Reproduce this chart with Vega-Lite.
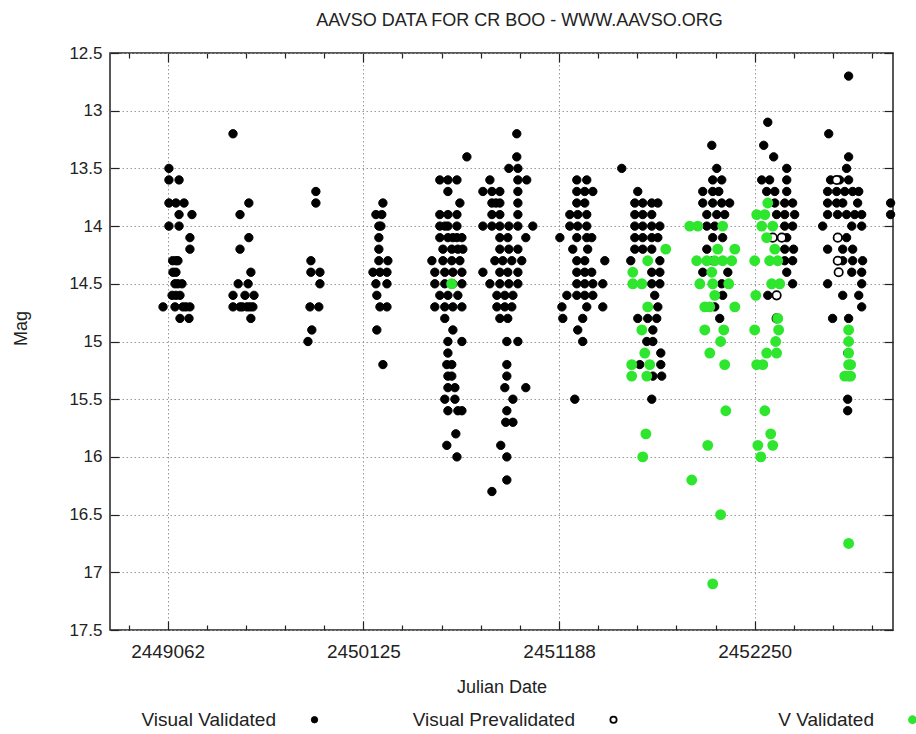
{
"$schema":"https://vega.github.io/schema/vega-lite/v6.json",
"width":783,"height":577,"autosize":"none",
"padding":{"left":110,"top":53,"right":23,"bottom":104},
"background":"white",
"title":{"text":"AAVSO DATA FOR CR BOO - WWW.AAVSO.ORG","font":"Liberation Sans","fontSize":18,"fontWeight":"normal","color":"#222","offset":14,"dx":18},
"config":{
"view":{"stroke":"#222","strokeWidth":1.5},
"axis":{"labelFont":"Liberation Sans","titleFont":"Liberation Sans","labelFontSize":17,"titleFontSize":18,"titleFontWeight":"normal","labelColor":"#222","titleColor":"#222","domain":false,"tickColor":"#222","tickWidth":1.2,"gridColor":"#999","gridDash":[1.5,2.5],"gridWidth":1}
},
"data":{"values":[
{"jd":2449069,"mag":13.5,"band":"Visual Validated"},{"jd":2449069,"mag":13.6,"band":"Visual Validated"},{"jd":2449124,"mag":13.6,"band":"Visual Validated"},{"jd":2449069,"mag":13.8,"band":"Visual Validated"},{"jd":2449107,"mag":13.8,"band":"Visual Validated"},{"jd":2449151,"mag":13.8,"band":"Visual Validated"},{"jd":2449124,"mag":13.9,"band":"Visual Validated"},{"jd":2449194,"mag":13.9,"band":"Visual Validated"},{"jd":2449069,"mag":14.0,"band":"Visual Validated"},{"jd":2449124,"mag":14.0,"band":"Visual Validated"},{"jd":2449183,"mag":14.1,"band":"Visual Validated"},{"jd":2449183,"mag":14.2,"band":"Visual Validated"},{"jd":2449089,"mag":14.3,"band":"Visual Validated"},{"jd":2449107,"mag":14.3,"band":"Visual Validated"},{"jd":2449118,"mag":14.3,"band":"Visual Validated"},{"jd":2449091,"mag":14.4,"band":"Visual Validated"},{"jd":2449107,"mag":14.4,"band":"Visual Validated"},{"jd":2449102,"mag":14.5,"band":"Visual Validated"},{"jd":2449118,"mag":14.5,"band":"Visual Validated"},{"jd":2449140,"mag":14.5,"band":"Visual Validated"},{"jd":2449086,"mag":14.6,"band":"Visual Validated"},{"jd":2449107,"mag":14.6,"band":"Visual Validated"},{"jd":2449129,"mag":14.6,"band":"Visual Validated"},{"jd":2449037,"mag":14.7,"band":"Visual Validated"},{"jd":2449102,"mag":14.7,"band":"Visual Validated"},{"jd":2449145,"mag":14.7,"band":"Visual Validated"},{"jd":2449162,"mag":14.7,"band":"Visual Validated"},{"jd":2449183,"mag":14.7,"band":"Visual Validated"},{"jd":2449129,"mag":14.8,"band":"Visual Validated"},{"jd":2449178,"mag":14.8,"band":"Visual Validated"},
{"jd":2449417,"mag":13.2,"band":"Visual Validated"},{"jd":2449503,"mag":13.8,"band":"Visual Validated"},{"jd":2449455,"mag":13.9,"band":"Visual Validated"},{"jd":2449503,"mag":14.1,"band":"Visual Validated"},{"jd":2449455,"mag":14.2,"band":"Visual Validated"},{"jd":2449514,"mag":14.4,"band":"Visual Validated"},{"jd":2449445,"mag":14.5,"band":"Visual Validated"},{"jd":2449499,"mag":14.5,"band":"Visual Validated"},{"jd":2449417,"mag":14.6,"band":"Visual Validated"},{"jd":2449482,"mag":14.6,"band":"Visual Validated"},{"jd":2449531,"mag":14.6,"band":"Visual Validated"},{"jd":2449417,"mag":14.7,"band":"Visual Validated"},{"jd":2449455,"mag":14.7,"band":"Visual Validated"},{"jd":2449468,"mag":14.7,"band":"Visual Validated"},{"jd":2449493,"mag":14.7,"band":"Visual Validated"},{"jd":2449509,"mag":14.7,"band":"Visual Validated"},{"jd":2449525,"mag":14.7,"band":"Visual Validated"},{"jd":2449514,"mag":14.8,"band":"Visual Validated"},
{"jd":2449867,"mag":13.7,"band":"Visual Validated"},{"jd":2449867,"mag":13.8,"band":"Visual Validated"},{"jd":2449840,"mag":14.3,"band":"Visual Validated"},{"jd":2449840,"mag":14.4,"band":"Visual Validated"},{"jd":2449889,"mag":14.4,"band":"Visual Validated"},{"jd":2449889,"mag":14.5,"band":"Visual Validated"},{"jd":2449835,"mag":14.7,"band":"Visual Validated"},{"jd":2449883,"mag":14.7,"band":"Visual Validated"},{"jd":2449845,"mag":14.9,"band":"Visual Validated"},{"jd":2449824,"mag":15.0,"band":"Visual Validated"},
{"jd":2450231,"mag":13.8,"band":"Visual Validated"},{"jd":2450193,"mag":13.9,"band":"Visual Validated"},{"jd":2450225,"mag":13.9,"band":"Visual Validated"},{"jd":2450209,"mag":14.0,"band":"Visual Validated"},{"jd":2450220,"mag":14.0,"band":"Visual Validated"},{"jd":2450209,"mag":14.1,"band":"Visual Validated"},{"jd":2450209,"mag":14.2,"band":"Visual Validated"},{"jd":2450209,"mag":14.3,"band":"Visual Validated"},{"jd":2450258,"mag":14.3,"band":"Visual Validated"},{"jd":2450177,"mag":14.4,"band":"Visual Validated"},{"jd":2450215,"mag":14.4,"band":"Visual Validated"},{"jd":2450253,"mag":14.4,"band":"Visual Validated"},{"jd":2450193,"mag":14.5,"band":"Visual Validated"},{"jd":2450253,"mag":14.5,"band":"Visual Validated"},{"jd":2450198,"mag":14.6,"band":"Visual Validated"},{"jd":2450215,"mag":14.7,"band":"Visual Validated"},{"jd":2450253,"mag":14.7,"band":"Visual Validated"},{"jd":2450198,"mag":14.9,"band":"Visual Validated"},{"jd":2450231,"mag":15.2,"band":"Visual Validated"},
{"jd":2450687,"mag":13.4,"band":"Visual Validated"},{"jd":2450540,"mag":13.6,"band":"Visual Validated"},{"jd":2450584,"mag":13.6,"band":"Visual Validated"},{"jd":2450633,"mag":13.6,"band":"Visual Validated"},{"jd":2450584,"mag":13.7,"band":"Visual Validated"},{"jd":2450649,"mag":13.8,"band":"Visual Validated"},{"jd":2450540,"mag":13.9,"band":"Visual Validated"},{"jd":2450584,"mag":13.9,"band":"Visual Validated"},{"jd":2450633,"mag":13.9,"band":"Visual Validated"},{"jd":2450540,"mag":14.0,"band":"Visual Validated"},{"jd":2450567,"mag":14.0,"band":"Visual Validated"},{"jd":2450584,"mag":14.0,"band":"Visual Validated"},{"jd":2450633,"mag":14.0,"band":"Visual Validated"},{"jd":2450540,"mag":14.1,"band":"Visual Validated"},{"jd":2450584,"mag":14.1,"band":"Visual Validated"},{"jd":2450611,"mag":14.1,"band":"Visual Validated"},{"jd":2450633,"mag":14.1,"band":"Visual Validated"},{"jd":2450660,"mag":14.1,"band":"Visual Validated"},{"jd":2450557,"mag":14.2,"band":"Visual Validated"},{"jd":2450605,"mag":14.2,"band":"Visual Validated"},{"jd":2450638,"mag":14.2,"band":"Visual Validated"},{"jd":2450665,"mag":14.2,"band":"Visual Validated"},{"jd":2450497,"mag":14.3,"band":"Visual Validated"},{"jd":2450557,"mag":14.3,"band":"Visual Validated"},{"jd":2450605,"mag":14.3,"band":"Visual Validated"},{"jd":2450649,"mag":14.3,"band":"Visual Validated"},{"jd":2450513,"mag":14.4,"band":"Visual Validated"},{"jd":2450567,"mag":14.4,"band":"Visual Validated"},{"jd":2450611,"mag":14.4,"band":"Visual Validated"},{"jd":2450660,"mag":14.4,"band":"Visual Validated"},{"jd":2450513,"mag":14.5,"band":"Visual Validated"},{"jd":2450567,"mag":14.5,"band":"Visual Validated"},{"jd":2450611,"mag":14.5,"band":"Visual Validated"},{"jd":2450660,"mag":14.5,"band":"Visual Validated"},{"jd":2450540,"mag":14.6,"band":"Visual Validated"},{"jd":2450584,"mag":14.6,"band":"Visual Validated"},{"jd":2450638,"mag":14.6,"band":"Visual Validated"},{"jd":2450513,"mag":14.7,"band":"Visual Validated"},{"jd":2450567,"mag":14.7,"band":"Visual Validated"},{"jd":2450611,"mag":14.7,"band":"Visual Validated"},{"jd":2450660,"mag":14.7,"band":"Visual Validated"},{"jd":2450567,"mag":14.8,"band":"Visual Validated"},{"jd":2450611,"mag":14.9,"band":"Visual Validated"},{"jd":2450584,"mag":15.0,"band":"Visual Validated"},{"jd":2450660,"mag":15.0,"band":"Visual Validated"},{"jd":2450584,"mag":15.1,"band":"Visual Validated"},{"jd":2450578,"mag":15.2,"band":"Visual Validated"},{"jd":2450605,"mag":15.2,"band":"Visual Validated"},{"jd":2450584,"mag":15.3,"band":"Visual Validated"},{"jd":2450605,"mag":15.3,"band":"Visual Validated"},{"jd":2450584,"mag":15.4,"band":"Visual Validated"},{"jd":2450622,"mag":15.4,"band":"Visual Validated"},{"jd":2450567,"mag":15.5,"band":"Visual Validated"},{"jd":2450622,"mag":15.5,"band":"Visual Validated"},{"jd":2450584,"mag":15.6,"band":"Visual Validated"},{"jd":2450638,"mag":15.6,"band":"Visual Validated"},{"jd":2450660,"mag":15.6,"band":"Visual Validated"},{"jd":2450627,"mag":15.8,"band":"Visual Validated"},{"jd":2450578,"mag":15.9,"band":"Visual Validated"},{"jd":2450633,"mag":16.0,"band":"Visual Validated"},
{"jd":2450958,"mag":13.2,"band":"Visual Validated"},{"jd":2450958,"mag":13.4,"band":"Visual Validated"},{"jd":2450915,"mag":13.5,"band":"Visual Validated"},{"jd":2450964,"mag":13.5,"band":"Visual Validated"},{"jd":2450812,"mag":13.6,"band":"Visual Validated"},{"jd":2450964,"mag":13.6,"band":"Visual Validated"},{"jd":2451012,"mag":13.6,"band":"Visual Validated"},{"jd":2450774,"mag":13.7,"band":"Visual Validated"},{"jd":2450823,"mag":13.7,"band":"Visual Validated"},{"jd":2450866,"mag":13.7,"band":"Visual Validated"},{"jd":2450964,"mag":13.7,"band":"Visual Validated"},{"jd":2450823,"mag":13.8,"band":"Visual Validated"},{"jd":2450845,"mag":13.8,"band":"Visual Validated"},{"jd":2450866,"mag":13.8,"band":"Visual Validated"},{"jd":2450964,"mag":13.8,"band":"Visual Validated"},{"jd":2450823,"mag":13.9,"band":"Visual Validated"},{"jd":2450866,"mag":13.9,"band":"Visual Validated"},{"jd":2450964,"mag":13.9,"band":"Visual Validated"},{"jd":2450774,"mag":14.0,"band":"Visual Validated"},{"jd":2450823,"mag":14.0,"band":"Visual Validated"},{"jd":2450866,"mag":14.0,"band":"Visual Validated"},{"jd":2450915,"mag":14.0,"band":"Visual Validated"},{"jd":2450964,"mag":14.0,"band":"Visual Validated"},{"jd":2451045,"mag":14.0,"band":"Visual Validated"},{"jd":2450866,"mag":14.1,"band":"Visual Validated"},{"jd":2450909,"mag":14.1,"band":"Visual Validated"},{"jd":2451007,"mag":14.1,"band":"Visual Validated"},{"jd":2450866,"mag":14.2,"band":"Visual Validated"},{"jd":2450915,"mag":14.2,"band":"Visual Validated"},{"jd":2450964,"mag":14.2,"band":"Visual Validated"},{"jd":2450839,"mag":14.3,"band":"Visual Validated"},{"jd":2450882,"mag":14.3,"band":"Visual Validated"},{"jd":2450931,"mag":14.3,"band":"Visual Validated"},{"jd":2450985,"mag":14.3,"band":"Visual Validated"},{"jd":2450774,"mag":14.4,"band":"Visual Validated"},{"jd":2450866,"mag":14.4,"band":"Visual Validated"},{"jd":2450909,"mag":14.4,"band":"Visual Validated"},{"jd":2450964,"mag":14.4,"band":"Visual Validated"},{"jd":2450812,"mag":14.5,"band":"Visual Validated"},{"jd":2450866,"mag":14.5,"band":"Visual Validated"},{"jd":2450915,"mag":14.5,"band":"Visual Validated"},{"jd":2450964,"mag":14.5,"band":"Visual Validated"},{"jd":2450850,"mag":14.6,"band":"Visual Validated"},{"jd":2450893,"mag":14.6,"band":"Visual Validated"},{"jd":2450937,"mag":14.6,"band":"Visual Validated"},{"jd":2450850,"mag":14.7,"band":"Visual Validated"},{"jd":2450893,"mag":14.7,"band":"Visual Validated"},{"jd":2450931,"mag":14.7,"band":"Visual Validated"},{"jd":2450866,"mag":14.8,"band":"Visual Validated"},{"jd":2450909,"mag":14.8,"band":"Visual Validated"},{"jd":2450904,"mag":15.0,"band":"Visual Validated"},{"jd":2450964,"mag":15.0,"band":"Visual Validated"},{"jd":2450904,"mag":15.2,"band":"Visual Validated"},{"jd":2450904,"mag":15.3,"band":"Visual Validated"},{"jd":2450893,"mag":15.4,"band":"Visual Validated"},{"jd":2451007,"mag":15.4,"band":"Visual Validated"},{"jd":2450937,"mag":15.5,"band":"Visual Validated"},{"jd":2450904,"mag":15.6,"band":"Visual Validated"},{"jd":2450898,"mag":15.7,"band":"Visual Validated"},{"jd":2450937,"mag":15.7,"band":"Visual Validated"},{"jd":2450871,"mag":15.9,"band":"Visual Validated"},{"jd":2450904,"mag":16.0,"band":"Visual Validated"},{"jd":2450904,"mag":16.2,"band":"Visual Validated"},{"jd":2450823,"mag":16.3,"band":"Visual Validated"},
{"jd":2451528,"mag":13.5,"band":"Visual Validated"},{"jd":2451284,"mag":13.6,"band":"Visual Validated"},{"jd":2451338,"mag":13.6,"band":"Visual Validated"},{"jd":2451284,"mag":13.7,"band":"Visual Validated"},{"jd":2451327,"mag":13.7,"band":"Visual Validated"},{"jd":2451371,"mag":13.7,"band":"Visual Validated"},{"jd":2451284,"mag":13.8,"band":"Visual Validated"},{"jd":2451327,"mag":13.8,"band":"Visual Validated"},{"jd":2451246,"mag":13.9,"band":"Visual Validated"},{"jd":2451289,"mag":13.9,"band":"Visual Validated"},{"jd":2451338,"mag":13.9,"band":"Visual Validated"},{"jd":2451246,"mag":14.0,"band":"Visual Validated"},{"jd":2451289,"mag":14.0,"band":"Visual Validated"},{"jd":2451338,"mag":14.0,"band":"Visual Validated"},{"jd":2451192,"mag":14.1,"band":"Visual Validated"},{"jd":2451284,"mag":14.1,"band":"Visual Validated"},{"jd":2451338,"mag":14.1,"band":"Visual Validated"},{"jd":2451365,"mag":14.1,"band":"Visual Validated"},{"jd":2451262,"mag":14.2,"band":"Visual Validated"},{"jd":2451343,"mag":14.2,"band":"Visual Validated"},{"jd":2451284,"mag":14.3,"band":"Visual Validated"},{"jd":2451327,"mag":14.3,"band":"Visual Validated"},{"jd":2451436,"mag":14.3,"band":"Visual Validated"},{"jd":2451284,"mag":14.4,"band":"Visual Validated"},{"jd":2451327,"mag":14.4,"band":"Visual Validated"},{"jd":2451365,"mag":14.4,"band":"Visual Validated"},{"jd":2451284,"mag":14.5,"band":"Visual Validated"},{"jd":2451327,"mag":14.5,"band":"Visual Validated"},{"jd":2451371,"mag":14.5,"band":"Visual Validated"},{"jd":2451425,"mag":14.5,"band":"Visual Validated"},{"jd":2451230,"mag":14.6,"band":"Visual Validated"},{"jd":2451284,"mag":14.6,"band":"Visual Validated"},{"jd":2451327,"mag":14.6,"band":"Visual Validated"},{"jd":2451371,"mag":14.6,"band":"Visual Validated"},{"jd":2451203,"mag":14.7,"band":"Visual Validated"},{"jd":2451338,"mag":14.7,"band":"Visual Validated"},{"jd":2451425,"mag":14.7,"band":"Visual Validated"},{"jd":2451208,"mag":14.8,"band":"Visual Validated"},{"jd":2451316,"mag":14.8,"band":"Visual Validated"},{"jd":2451289,"mag":14.9,"band":"Visual Validated"},{"jd":2451316,"mag":15.0,"band":"Visual Validated"},{"jd":2451273,"mag":15.5,"band":"Visual Validated"},
{"jd":2451615,"mag":13.7,"band":"Visual Validated"},{"jd":2451599,"mag":13.8,"band":"Visual Validated"},{"jd":2451642,"mag":13.8,"band":"Visual Validated"},{"jd":2451691,"mag":13.8,"band":"Visual Validated"},{"jd":2451724,"mag":13.8,"band":"Visual Validated"},{"jd":2451599,"mag":13.9,"band":"Visual Validated"},{"jd":2451642,"mag":13.9,"band":"Visual Validated"},{"jd":2451691,"mag":13.9,"band":"Visual Validated"},{"jd":2451599,"mag":14.0,"band":"Visual Validated"},{"jd":2451642,"mag":14.0,"band":"Visual Validated"},{"jd":2451691,"mag":14.0,"band":"Visual Validated"},{"jd":2451735,"mag":14.0,"band":"Visual Validated"},{"jd":2451599,"mag":14.1,"band":"Visual Validated"},{"jd":2451642,"mag":14.1,"band":"Visual Validated"},{"jd":2451691,"mag":14.1,"band":"Visual Validated"},{"jd":2451724,"mag":14.1,"band":"Visual Validated"},{"jd":2451599,"mag":14.2,"band":"Visual Validated"},{"jd":2451642,"mag":14.2,"band":"Visual Validated"},{"jd":2451691,"mag":14.2,"band":"Visual Validated"},{"jd":2451577,"mag":14.3,"band":"Visual Validated"},{"jd":2451735,"mag":14.3,"band":"Visual Validated"},{"jd":2451691,"mag":14.4,"band":"Visual Validated"},{"jd":2451735,"mag":14.4,"band":"Visual Validated"},{"jd":2451691,"mag":14.5,"band":"Visual Validated"},{"jd":2451735,"mag":14.5,"band":"Visual Validated"},{"jd":2451707,"mag":14.6,"band":"Visual Validated"},{"jd":2451724,"mag":14.7,"band":"Visual Validated"},{"jd":2451615,"mag":14.8,"band":"Visual Validated"},{"jd":2451669,"mag":14.8,"band":"Visual Validated"},{"jd":2451718,"mag":14.8,"band":"Visual Validated"},{"jd":2451697,"mag":14.9,"band":"Visual Validated"},{"jd":2451664,"mag":15.0,"band":"Visual Validated"},{"jd":2451697,"mag":15.0,"band":"Visual Validated"},{"jd":2451740,"mag":15.1,"band":"Visual Validated"},{"jd":2451626,"mag":15.2,"band":"Visual Validated"},{"jd":2451740,"mag":15.2,"band":"Visual Validated"},{"jd":2451697,"mag":15.3,"band":"Visual Validated"},{"jd":2451745,"mag":15.3,"band":"Visual Validated"},{"jd":2451691,"mag":15.5,"band":"Visual Validated"},
{"jd":2452017,"mag":13.3,"band":"Visual Validated"},{"jd":2452044,"mag":13.5,"band":"Visual Validated"},{"jd":2452022,"mag":13.6,"band":"Visual Validated"},{"jd":2452071,"mag":13.6,"band":"Visual Validated"},{"jd":2451968,"mag":13.7,"band":"Visual Validated"},{"jd":2452022,"mag":13.7,"band":"Visual Validated"},{"jd":2452055,"mag":13.7,"band":"Visual Validated"},{"jd":2451968,"mag":13.8,"band":"Visual Validated"},{"jd":2452022,"mag":13.8,"band":"Visual Validated"},{"jd":2452071,"mag":13.8,"band":"Visual Validated"},{"jd":2452114,"mag":13.8,"band":"Visual Validated"},{"jd":2451990,"mag":13.9,"band":"Visual Validated"},{"jd":2452044,"mag":13.9,"band":"Visual Validated"},{"jd":2452087,"mag":13.9,"band":"Visual Validated"},{"jd":2451990,"mag":14.0,"band":"Visual Validated"},{"jd":2452033,"mag":14.0,"band":"Visual Validated"},{"jd":2452022,"mag":14.1,"band":"Visual Validated"},{"jd":2452076,"mag":14.1,"band":"Visual Validated"},{"jd":2451990,"mag":14.2,"band":"Visual Validated"},{"jd":2452049,"mag":14.2,"band":"Visual Validated"},{"jd":2452022,"mag":14.3,"band":"Visual Validated"},{"jd":2451968,"mag":14.4,"band":"Visual Validated"},{"jd":2452104,"mag":14.4,"band":"Visual Validated"},{"jd":2452071,"mag":14.5,"band":"Visual Validated"},{"jd":2452076,"mag":14.6,"band":"Visual Validated"},{"jd":2452033,"mag":14.7,"band":"Visual Validated"},{"jd":2452060,"mag":14.8,"band":"Visual Validated"},
{"jd":2452321,"mag":13.1,"band":"Visual Validated"},{"jd":2452299,"mag":13.3,"band":"Visual Validated"},{"jd":2452353,"mag":13.4,"band":"Visual Validated"},{"jd":2452424,"mag":13.5,"band":"Visual Validated"},{"jd":2452288,"mag":13.6,"band":"Visual Validated"},{"jd":2452331,"mag":13.6,"band":"Visual Validated"},{"jd":2452424,"mag":13.6,"band":"Visual Validated"},{"jd":2452315,"mag":13.7,"band":"Visual Validated"},{"jd":2452359,"mag":13.7,"band":"Visual Validated"},{"jd":2452424,"mag":13.7,"band":"Visual Validated"},{"jd":2452359,"mag":13.8,"band":"Visual Validated"},{"jd":2452413,"mag":13.8,"band":"Visual Validated"},{"jd":2452456,"mag":13.8,"band":"Visual Validated"},{"jd":2452369,"mag":13.9,"band":"Visual Validated"},{"jd":2452413,"mag":13.9,"band":"Visual Validated"},{"jd":2452467,"mag":13.9,"band":"Visual Validated"},{"jd":2452413,"mag":14.0,"band":"Visual Validated"},{"jd":2452456,"mag":14.0,"band":"Visual Validated"},{"jd":2452424,"mag":14.1,"band":"Visual Validated"},{"jd":2452413,"mag":14.2,"band":"Visual Validated"},{"jd":2452461,"mag":14.2,"band":"Visual Validated"},{"jd":2452413,"mag":14.3,"band":"Visual Validated"},{"jd":2452456,"mag":14.3,"band":"Visual Validated"},{"jd":2452424,"mag":14.4,"band":"Visual Validated"},{"jd":2452456,"mag":14.5,"band":"Visual Validated"},{"jd":2452321,"mag":14.6,"band":"Visual Validated"},
{"jd":2452760,"mag":12.7,"band":"Visual Validated"},{"jd":2452652,"mag":13.2,"band":"Visual Validated"},{"jd":2452760,"mag":13.4,"band":"Visual Validated"},{"jd":2452749,"mag":13.5,"band":"Visual Validated"},{"jd":2452662,"mag":13.6,"band":"Visual Validated"},{"jd":2452711,"mag":13.6,"band":"Visual Validated"},{"jd":2452760,"mag":13.6,"band":"Visual Validated"},{"jd":2452646,"mag":13.7,"band":"Visual Validated"},{"jd":2452695,"mag":13.7,"band":"Visual Validated"},{"jd":2452739,"mag":13.7,"band":"Visual Validated"},{"jd":2452782,"mag":13.7,"band":"Visual Validated"},{"jd":2452815,"mag":13.7,"band":"Visual Validated"},{"jd":2452646,"mag":13.8,"band":"Visual Validated"},{"jd":2452695,"mag":13.8,"band":"Visual Validated"},{"jd":2452728,"mag":13.8,"band":"Visual Validated"},{"jd":2452809,"mag":13.8,"band":"Visual Validated"},{"jd":2452646,"mag":13.9,"band":"Visual Validated"},{"jd":2452700,"mag":13.9,"band":"Visual Validated"},{"jd":2452749,"mag":13.9,"band":"Visual Validated"},{"jd":2452793,"mag":13.9,"band":"Visual Validated"},{"jd":2452831,"mag":13.9,"band":"Visual Validated"},{"jd":2452619,"mag":14.0,"band":"Visual Validated"},{"jd":2452777,"mag":14.0,"band":"Visual Validated"},{"jd":2452831,"mag":14.0,"band":"Visual Validated"},{"jd":2452749,"mag":14.1,"band":"Visual Validated"},{"jd":2452646,"mag":14.2,"band":"Visual Validated"},{"jd":2452728,"mag":14.2,"band":"Visual Validated"},{"jd":2452782,"mag":14.2,"band":"Visual Validated"},{"jd":2452728,"mag":14.3,"band":"Visual Validated"},{"jd":2452782,"mag":14.3,"band":"Visual Validated"},{"jd":2452836,"mag":14.3,"band":"Visual Validated"},{"jd":2452777,"mag":14.4,"band":"Visual Validated"},{"jd":2452831,"mag":14.4,"band":"Visual Validated"},{"jd":2452646,"mag":14.5,"band":"Visual Validated"},{"jd":2452831,"mag":14.5,"band":"Visual Validated"},{"jd":2452728,"mag":14.6,"band":"Visual Validated"},{"jd":2452815,"mag":14.6,"band":"Visual Validated"},{"jd":2452831,"mag":14.7,"band":"Visual Validated"},{"jd":2452673,"mag":14.8,"band":"Visual Validated"},{"jd":2452760,"mag":14.8,"band":"Visual Validated"},{"jd":2452755,"mag":15.1,"band":"Visual Validated"},{"jd":2452755,"mag":15.5,"band":"Visual Validated"},{"jd":2452755,"mag":15.6,"band":"Visual Validated"},{"jd":2452988,"mag":13.8,"band":"Visual Validated"},{"jd":2452988,"mag":13.9,"band":"Visual Validated"},
{"jd":2452348,"mag":14.1,"band":"Visual Prevalidated"},{"jd":2452397,"mag":14.1,"band":"Visual Prevalidated"},{"jd":2452369,"mag":14.6,"band":"Visual Prevalidated"},{"jd":2452369,"mag":14.8,"band":"Visual Prevalidated"},{"jd":2452695,"mag":13.6,"band":"Visual Prevalidated"},{"jd":2452701,"mag":14.1,"band":"Visual Prevalidated"},{"jd":2452701,"mag":14.3,"band":"Visual Prevalidated"},{"jd":2452706,"mag":14.4,"band":"Visual Prevalidated"},
{"jd":2450604,"mag":14.5,"band":"V Validated"},
{"jd":2451767,"mag":14.2,"band":"V Validated"},{"jd":2451669,"mag":14.3,"band":"V Validated"},{"jd":2451588,"mag":14.4,"band":"V Validated"},{"jd":2451588,"mag":14.5,"band":"V Validated"},{"jd":2451637,"mag":14.5,"band":"V Validated"},{"jd":2451669,"mag":14.7,"band":"V Validated"},{"jd":2451637,"mag":14.9,"band":"V Validated"},{"jd":2451653,"mag":15.1,"band":"V Validated"},{"jd":2451582,"mag":15.2,"band":"V Validated"},{"jd":2451680,"mag":15.2,"band":"V Validated"},{"jd":2451582,"mag":15.3,"band":"V Validated"},{"jd":2451664,"mag":15.3,"band":"V Validated"},{"jd":2451659,"mag":15.8,"band":"V Validated"},{"jd":2451642,"mag":16.0,"band":"V Validated"},
{"jd":2451897,"mag":14.0,"band":"V Validated"},{"jd":2451941,"mag":14.0,"band":"V Validated"},{"jd":2452076,"mag":14.0,"band":"V Validated"},{"jd":2452049,"mag":14.2,"band":"V Validated"},{"jd":2452142,"mag":14.2,"band":"V Validated"},{"jd":2451935,"mag":14.3,"band":"V Validated"},{"jd":2451990,"mag":14.3,"band":"V Validated"},{"jd":2452033,"mag":14.3,"band":"V Validated"},{"jd":2452076,"mag":14.3,"band":"V Validated"},{"jd":2452125,"mag":14.3,"band":"V Validated"},{"jd":2452017,"mag":14.4,"band":"V Validated"},{"jd":2451952,"mag":14.5,"band":"V Validated"},{"jd":2452022,"mag":14.5,"band":"V Validated"},{"jd":2452109,"mag":14.5,"band":"V Validated"},{"jd":2452033,"mag":14.6,"band":"V Validated"},{"jd":2451979,"mag":14.7,"band":"V Validated"},{"jd":2452006,"mag":14.7,"band":"V Validated"},{"jd":2452142,"mag":14.7,"band":"V Validated"},{"jd":2451979,"mag":14.9,"band":"V Validated"},{"jd":2452082,"mag":14.9,"band":"V Validated"},{"jd":2452065,"mag":15.0,"band":"V Validated"},{"jd":2452006,"mag":15.1,"band":"V Validated"},{"jd":2452087,"mag":15.2,"band":"V Validated"},{"jd":2452093,"mag":15.6,"band":"V Validated"},{"jd":2451995,"mag":15.9,"band":"V Validated"},{"jd":2451908,"mag":16.2,"band":"V Validated"},{"jd":2452065,"mag":16.5,"band":"V Validated"},{"jd":2452022,"mag":17.1,"band":"V Validated"},
{"jd":2452321,"mag":13.8,"band":"V Validated"},{"jd":2452261,"mag":13.9,"band":"V Validated"},{"jd":2452305,"mag":13.9,"band":"V Validated"},{"jd":2452288,"mag":14.0,"band":"V Validated"},{"jd":2452348,"mag":14.0,"band":"V Validated"},{"jd":2452315,"mag":14.1,"band":"V Validated"},{"jd":2452359,"mag":14.2,"band":"V Validated"},{"jd":2452250,"mag":14.3,"band":"V Validated"},{"jd":2452331,"mag":14.3,"band":"V Validated"},{"jd":2452375,"mag":14.3,"band":"V Validated"},{"jd":2452342,"mag":14.5,"band":"V Validated"},{"jd":2452386,"mag":14.5,"band":"V Validated"},{"jd":2452256,"mag":14.6,"band":"V Validated"},{"jd":2452375,"mag":14.8,"band":"V Validated"},{"jd":2452250,"mag":14.9,"band":"V Validated"},{"jd":2452380,"mag":14.9,"band":"V Validated"},{"jd":2452364,"mag":15.0,"band":"V Validated"},{"jd":2452315,"mag":15.1,"band":"V Validated"},{"jd":2452369,"mag":15.1,"band":"V Validated"},{"jd":2452261,"mag":15.2,"band":"V Validated"},{"jd":2452294,"mag":15.2,"band":"V Validated"},{"jd":2452305,"mag":15.6,"band":"V Validated"},{"jd":2452337,"mag":15.8,"band":"V Validated"},{"jd":2452267,"mag":15.9,"band":"V Validated"},{"jd":2452348,"mag":15.9,"band":"V Validated"},{"jd":2452283,"mag":16.0,"band":"V Validated"},
{"jd":2452760,"mag":14.9,"band":"V Validated"},{"jd":2452760,"mag":15.0,"band":"V Validated"},{"jd":2452760,"mag":15.1,"band":"V Validated"},{"jd":2452760,"mag":15.2,"band":"V Validated"},{"jd":2452771,"mag":15.2,"band":"V Validated"},{"jd":2452739,"mag":15.3,"band":"V Validated"},{"jd":2452760,"mag":15.3,"band":"V Validated"},{"jd":2452771,"mag":15.3,"band":"V Validated"},{"jd":2452760,"mag":16.75,"band":"V Validated"}
]},
"resolve":{"axis":{"x":"independent","y":"independent"}},
"layer":[
{"mark":{"type":"circle","size":70,"opacity":1},
"encoding":{
"x":{"field":"jd","type":"quantitative","scale":{"domain":[2448749,2453001],"nice":false,"zero":false},
"axis":{"orient":"bottom","values":[2449062,2450125,2451188,2452250],"format":"d","title":"Julian Date","labelFontSize":19,"tickSize":-9,"labelPadding":21,"titlePadding":17,"grid":true}},
"y":{"field":"mag","type":"quantitative","scale":{"domain":[12.5,17.5],"reverse":true,"nice":false,"zero":false},
"axis":{"orient":"left","values":[12.5,13,13.5,14,14.5,15,15.5,16,16.5,17,17.5],"format":"~g","title":"Mag","titleY":275,"tickSize":-9,"labelPadding":17,"titlePadding":38,"grid":true}},
"fill":{"field":"band","type":"nominal","sort":null,"scale":{"domain":["Visual Validated","Visual Prevalidated","V Validated"],"range":["#000000","#ffffff","#2ee62e"]},
"legend":{"orient":"none","legendX":195,"legendY":657,"direction":"horizontal","columns":3,"title":null,"labelFont":"Liberation Sans","labelFontSize":19,"labelColor":"#222","labelLimit":400,"symbolSize":40,"labelAlign":"right","labelOffset":-48,"columnPadding":89,"gridAlign":"all"}},
"stroke":{"field":"band","type":"nominal","sort":null,"scale":{"domain":["Visual Validated","Visual Prevalidated","V Validated"],"range":["#000000","#000000","#2ee62e"]}},
"strokeWidth":{"field":"band","type":"nominal","sort":null,"scale":{"domain":["Visual Validated","Visual Prevalidated","V Validated"],"range":[1,2.5,1]},"legend":null}
}},
{"mark":{"type":"circle","opacity":0},
"encoding":{
"x":{"field":"jd","type":"quantitative","axis":{"orient":"top","values":[2449062,2450125,2451188,2452250],"labels":false,"grid":false,"title":null,"tickSize":-9}},
"y":{"field":"mag","type":"quantitative","axis":{"orient":"right","values":[12.5,13,13.5,14,14.5,15,15.5,16,16.5,17,17.5],"labels":false,"grid":false,"title":null,"tickSize":-9}}
}},
{"mark":{"type":"circle","opacity":0},
"encoding":{
"x":{"field":"jd","type":"quantitative","axis":{"orient":"bottom","values":[2448850,2449274,2449487,2449700,2449912,2450337,2450550,2450763,2450975,2451400,2451613,2451825,2452038,2452463,2452675,2452888],"labels":false,"grid":false,"title":null,"tickSize":-5}},
"y":{"field":"mag","type":"quantitative","axis":null}
}},
{"mark":{"type":"circle","opacity":0},
"encoding":{
"x":{"field":"jd","type":"quantitative","axis":{"orient":"top","values":[2448850,2449274,2449487,2449700,2449912,2450337,2450550,2450763,2450975,2451400,2451613,2451825,2452038,2452463,2452675,2452888],"labels":false,"grid":false,"title":null,"tickSize":-5}},
"y":{"field":"mag","type":"quantitative","axis":null}
}}
]
}
